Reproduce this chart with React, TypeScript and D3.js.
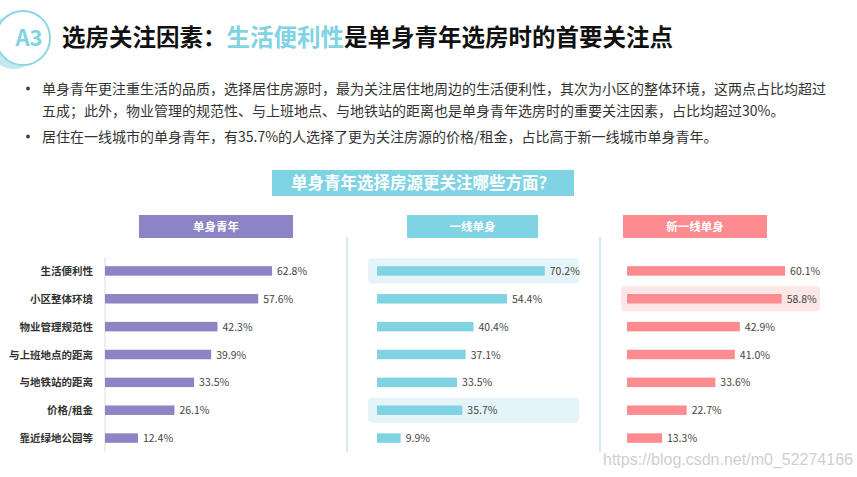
import React from "react";
import * as d3 from "d3";

const categories = ["生活便利性", "小区整体环境", "物业管理规范性", "与上班地点的距离", "与地铁站的距离", "价格/租金", "靠近绿地公园等"];
const singleYouth = [62.8, 57.6, 42.3, 39.9, 33.5, 26.1, 12.4];
const tier1 = [70.2, 54.4, 40.4, 37.1, 33.5, 35.7, 9.9];
const newTier1 = [60.1, 58.8, 42.9, 41.0, 33.6, 22.7, 13.3];
const panelTitles = ["单身青年", "一线单身", "新一线单身"];

const FONT = "'Noto Sans CJK SC', 'Noto Sans', sans-serif";

export default function App() {
  const y = d3.scaleBand<string>().domain(categories).range([257, 452]).paddingInner(0.66).paddingOuter(0.33);
  const panels = [
    { data: singleYouth, x0: 105, pxMax: 266, color: "#8c84c4", hx: 139, hw: 154, hl: [] as number[], hlColor: "", hlX: 0, hlW: 0 },
    { data: tier1, x0: 377, pxMax: 239, color: "#7fd3e3", hx: 407, hw: 131, hl: [0, 5], hlColor: "#e4f4f8", hlX: 368, hlW: 211 },
    { data: newTier1, x0: 627, pxMax: 263, color: "#fd8b8f", hx: 623, hw: 144, hl: [1], hlColor: "#fde6e6", hlX: 621, hlW: 199 },
  ];
  const bullets = [
    { y: 89, lines: ["单身青年更注重生活的品质，选择居住房源时，最为关注居住地周边的生活便利性，其次为小区的整体环境，这两点占比均超过", "五成；此外，物业管理的规范性、与上班地点、与地铁站的距离也是单身青年选房时的重要关注因素，占比均超过30%。"] },
    { y: 137, lines: ["居住在一线城市的单身青年，有35.7%的人选择了更为关注房源的价格/租金，占比高于新一线城市单身青年。"] },
  ];
  const bw = y.bandwidth();
  return (
    <svg width={857} height={477} style={{ position: "absolute", left: 0, top: 0, background: "#fff" }} fontFamily={FONT}>
      <rect width={857} height={477} fill="#fff" />
      {/* badge */}
      <circle cx={14} cy={42} r={27} fill="#c4e9f1" />
      <circle cx={23} cy={38} r={27} fill="#fff" stroke="#8fd6e5" strokeWidth={2} />
      <text x={29} y={46} textAnchor="middle" fontSize={22} fontWeight={700} fill="#7fd3e3">A3</text>
      {/* title */}
      <text x={62} y={46} fontSize={23.5} fontWeight={700} fill="#111">
        选房关注因素：<tspan fill="#7fd3e3">生活便利性</tspan>是单身青年选房时的首要关注点
      </text>
      {/* bullets */}
      {bullets.map((b, i) => (
        <g key={i}>
          <circle cx={28} cy={b.y - 0.5} r={2} fill="#444" />
          {b.lines.map((l, j) => (
            <text key={j} x={42} y={b.y + 5 + j * 22} fontSize={14} fill="#333">{l}</text>
          ))}
        </g>
      ))}
      {/* banner */}
      <rect x={272} y={170} width={302} height={26} fill="#7fd3e3" />
      <text x={423} y={189} textAnchor="middle" fontSize={16.5} fontWeight={700} fill="#fff">单身青年选择房源更关注哪些方面？</text>
      {/* separators */}
      <line x1={105} x2={105} y1={257} y2={452} stroke="#dcdcdc" strokeWidth={1} />
      <line x1={347} x2={347} y1={237} y2={452} stroke="#bfe7ee" strokeWidth={1.5} />
      <line x1={600} x2={600} y1={237} y2={452} stroke="#bfe7ee" strokeWidth={1.5} />
      {/* category labels */}
      {categories.map((c) => (
        <text key={c} x={93} y={(y(c) as number) + bw / 2 + 4} textAnchor="end" fontSize={10.5} fontWeight={700} fill="#333">{c}</text>
      ))}
      {panels.map((p, pi) => {
        const x = d3.scaleLinear().domain([0, 100]).range([p.x0, p.x0 + p.pxMax]);
        return (
          <g key={pi}>
            <rect x={p.hx} y={215} width={p.hw} height={23} fill={p.color} />
            <text x={p.hx + p.hw / 2} y={231} textAnchor="middle" fontSize={11.5} fontWeight={700} fill="#fff">{panelTitles[pi]}</text>
            {p.hl.map((k) => (
              <rect key={k} x={p.hlX} y={(y(categories[k]) as number) + bw / 2 - 12.5} width={p.hlW} height={25} rx={4} fill={p.hlColor} />
            ))}
            {p.data.map((v, k) => {
              const yy = y(categories[k]) as number;
              return (
                <g key={k}>
                  <rect x={x(0)} y={yy} width={x(v) - x(0)} height={bw} fill={p.color} />
                  <text x={x(v) + 5} y={yy + bw / 2 + 4} fontSize={10.5} fill="#444">{v.toFixed(1)}%</text>
                </g>
              );
            })}
          </g>
        );
      })}
      <text x={603} y={465} fontSize={16} fontFamily="'Liberation Sans', Arial, sans-serif" fill="#cfcfcf">https://blog.csdn.net/m0_52274166</text>
    </svg>
  );
}
